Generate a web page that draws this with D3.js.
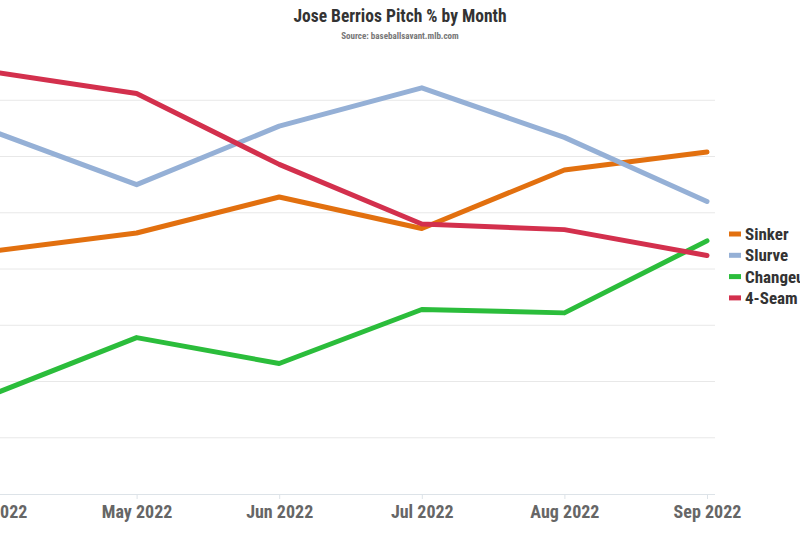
<!DOCTYPE html>
<html>
<head>
<meta charset="utf-8">
<script src="https://cdn.jsdelivr.net/npm/d3@7"></script>
<style>
  body { margin: 0; background: #fff; }
  text { font-family: "Roboto Condensed", "Liberation Sans Narrow", Roboto, sans-serif; font-weight: bold; }
</style>
</head>
<body>
<div id="chart"></div>
<script>
const months = ["Apr 2022", "May 2022", "Jun 2022", "Jul 2022", "Aug 2022", "Sep 2022"];
const pitches = ["Sinker", "Slurve", "Changeup", "4-Seam Fastball"];
const sinker = [21.6, 23.2, 26.4, 23.6, 28.8, 30.4];
const slurve = [32.2, 27.5, 32.7, 36.1, 31.7, 26.0];
const changeup = [8.9, 13.9, 11.6, 16.4, 16.1, 22.5];
const fourSeam = [37.5, 35.6, 29.3, 24.0, 23.5, 21.2];
const yTicks = [0, 5, 10, 15, 20, 25, 30, 35, 40];

const W = 800, H = 533;
const colors = ["#e2700f", "#95b0d6", "#2bbd3b", "#d3304d"];
const seriesValues = [sinker, slurve, changeup, fourSeam];

const svg = d3.select("#chart").append("svg")
  .attr("width", W)
  .attr("height", H);

const x = d3.scalePoint().domain(months).range([-6, 707]);
const y = d3.scaleLinear().domain([0, 40]).range([494, 44]);

// title
svg.append("text")
  .attr("x", 400).attr("y", 22)
  .attr("text-anchor", "middle")
  .attr("font-size", "17.5px")
  .attr("fill", "#333")
  .text("Jose Berrios Pitch % by Month");
svg.append("text")
  .attr("x", 400).attr("y", 39)
  .attr("text-anchor", "middle")
  .attr("font-size", "9px")
  .attr("fill", "#777")
  .text("Source: baseballsavant.mlb.com");

// gridlines
svg.append("g")
  .selectAll("line")
  .data(yTicks.filter(d => d > 0 && d < 40))
  .join("line")
  .attr("x1", -20).attr("x2", 715)
  .attr("y1", d => y(d)).attr("y2", d => y(d))
  .style("stroke", "#e8e8e8")
  .style("stroke-width", 1);

// x axis
const xAxis = svg.append("g")
  .attr("transform", `translate(0,${y(0)})`)
  .call(d3.axisBottom(x).tickSize(5).tickSizeOuter(0).tickPadding(6));
xAxis.select(".domain").attr("d", "M-20,0.5H715").style("stroke", "#dde3e8");
xAxis.selectAll(".tick line").style("stroke", "#dde3e8");
xAxis.selectAll(".tick text")
  .attr("font-size", "18px")
  .attr("fill", "#666")
  .style("font-family", "'Roboto Condensed', 'Liberation Sans Narrow', Roboto, sans-serif")
  .style("font-weight", "bold");

// lines
const line = d3.line()
  .x((d, i) => x(months[i]))
  .y(d => y(d));

svg.append("g")
  .selectAll("path")
  .data(seriesValues)
  .join("path")
  .attr("d", d => line(d))
  .style("fill", "none")
  .style("stroke", (d, i) => colors[i])
  .style("stroke-width", 5)
  .style("stroke-linejoin", "round")
  .style("stroke-linecap", "round");

// legend
const legend = svg.append("g").attr("transform", "translate(729,234)");
const rows = legend.selectAll("g")
  .data(pitches)
  .join("g")
  .attr("transform", (d, i) => `translate(0,${i * 21.3})`);
rows.append("rect")
  .attr("x", 0).attr("y", -2.5)
  .attr("width", 12).attr("height", 5)
  .style("fill", (d, i) => colors[i]);
rows.append("text")
  .attr("x", 16).attr("y", 0)
  .attr("dy", "0.35em")
  .attr("font-size", "17px")
  .attr("fill", "#333")
  .text(d => d);
</script>
</body>
</html>
